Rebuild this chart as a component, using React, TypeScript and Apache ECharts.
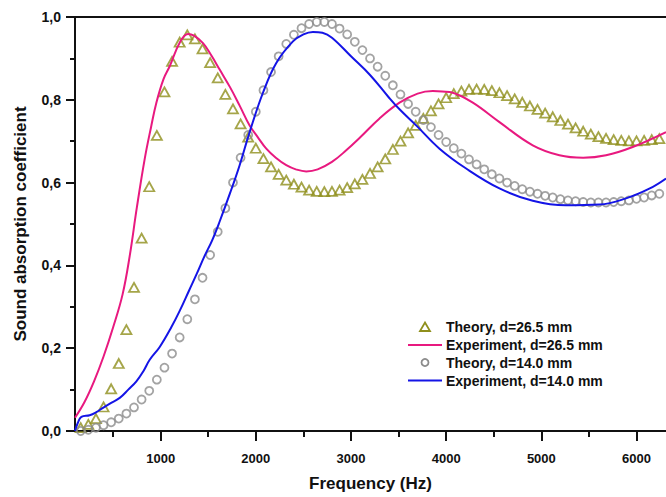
import React, { useEffect, useRef } from "react";
import * as echarts from "echarts";

// ---------- DATA ----------
const theory265Freq = [160, 240, 320, 400, 480, 560, 640, 720, 800, 880, 960, 1040, 1120, 1200, 1280, 1360, 1440, 1520, 1600, 1680, 1760, 1840, 1920, 2000, 2080, 2160, 2240, 2320, 2400, 2480, 2560, 2640, 2720, 2800, 2880, 2960, 3040, 3120, 3200, 3280, 3360, 3440, 3520, 3600, 3680, 3760, 3840, 3920, 4000, 4080, 4160, 4240, 4320, 4400, 4480, 4560, 4640, 4720, 4800, 4880, 4960, 5040, 5120, 5200, 5280, 5360, 5440, 5520, 5600, 5680, 5760, 5840, 5920, 6000, 6080, 6160, 6240];
const theory265Val = [0.008, 0.016, 0.03, 0.058, 0.102, 0.163, 0.245, 0.347, 0.466, 0.59, 0.714, 0.819, 0.893, 0.939, 0.957, 0.947, 0.923, 0.89, 0.853, 0.813, 0.778, 0.742, 0.71, 0.683, 0.658, 0.638, 0.62, 0.606, 0.596, 0.589, 0.582, 0.579, 0.578, 0.579, 0.582, 0.588, 0.597, 0.608, 0.622, 0.638, 0.657, 0.68, 0.7, 0.72, 0.738, 0.755, 0.773, 0.79, 0.805, 0.815, 0.821, 0.825, 0.826, 0.825, 0.822, 0.817, 0.81, 0.802, 0.794, 0.785, 0.777, 0.768, 0.759, 0.75, 0.741, 0.732, 0.724, 0.717, 0.711, 0.707, 0.704, 0.702, 0.701, 0.701, 0.702, 0.704, 0.706];

const exp265Freq = [100, 200, 300, 400, 500, 600, 675, 750, 833, 900, 955, 1030, 1095, 1200, 1287, 1350, 1445, 1530, 1620, 1730, 1830, 1935, 2020, 2110, 2210, 2320, 2420, 2530, 2650, 2800, 2950, 3100, 3300, 3510, 3700, 3860, 3960, 4070, 4280, 4560, 4910, 5190, 5440, 5680, 5960, 6310];
const exp265Val = [0.032, 0.07, 0.12, 0.18, 0.25, 0.33, 0.423, 0.54, 0.658, 0.735, 0.793, 0.85, 0.881, 0.938, 0.959, 0.955, 0.937, 0.908, 0.873, 0.83, 0.786, 0.738, 0.71, 0.682, 0.66, 0.642, 0.632, 0.627, 0.632, 0.65, 0.678, 0.71, 0.755, 0.793, 0.815, 0.821, 0.82, 0.817, 0.793, 0.746, 0.69, 0.666, 0.66, 0.666, 0.686, 0.722];

const theory140Freq = theory265Freq;
const theory140Val = [0.0, 0.003, 0.008, 0.014, 0.021, 0.03, 0.042, 0.057, 0.076, 0.097, 0.124, 0.153, 0.187, 0.226, 0.27, 0.318, 0.37, 0.425, 0.481, 0.538, 0.6, 0.66, 0.715, 0.771, 0.823, 0.867, 0.905, 0.935, 0.957, 0.973, 0.983, 0.988, 0.988, 0.983, 0.972, 0.958, 0.94, 0.92, 0.9, 0.88, 0.858, 0.835, 0.813, 0.79, 0.771, 0.751, 0.734, 0.715, 0.698, 0.683, 0.67, 0.656, 0.644, 0.632, 0.62, 0.61, 0.6, 0.592, 0.584, 0.578, 0.573, 0.568, 0.564, 0.56, 0.557, 0.555, 0.553, 0.552, 0.552, 0.552, 0.553, 0.555, 0.557, 0.561, 0.564, 0.569, 0.573];

const exp140Freq = [100, 130, 167, 254, 320, 394, 480, 570, 660, 745, 820, 885, 990, 1113, 1200, 1300, 1380, 1462, 1540, 1620, 1730, 1830, 1935, 2075, 2215, 2390, 2500, 2600, 2700, 2800, 3000, 3200, 3400, 3510, 3690, 3930, 4210, 4560, 4910, 5260, 5610, 5890, 6140, 6310];
const exp140Val = [0.0, 0.02, 0.034, 0.038, 0.045, 0.056, 0.068, 0.08, 0.1, 0.12, 0.145, 0.172, 0.203, 0.251, 0.29, 0.34, 0.38, 0.423, 0.46, 0.506, 0.575, 0.642, 0.722, 0.817, 0.889, 0.941, 0.958, 0.964, 0.962, 0.95, 0.905, 0.86, 0.805, 0.777, 0.737, 0.682, 0.634, 0.586, 0.556, 0.545, 0.547, 0.562, 0.586, 0.61];

const xMajorTicks = [1000, 2000, 3000, 4000, 5000, 6000];
const xMinorTicks = [500, 1500, 2500, 3500, 4500, 5500];
const legendLabels = ["Theory, d=26.5 mm", "Experiment, d=26.5 mm", "Theory, d=14.0 mm", "Experiment, d=14.0 mm"];

const COLORS = { olive: "#8f8f1c", pink: "#e8197f", gray: "#8c8c8c", blue: "#1414e6" };
const FONT = "'Liberation Sans', Arial, sans-serif";

const zip = (xs: number[], ys: number[]) => xs.map((x, i) => [x, ys[i]]);

export default function App() {
  const ref = useRef<HTMLDivElement>(null);
  useEffect(() => {
    if (!ref.current) return;
    const chart = echarts.init(ref.current, null, { renderer: "svg" });
    const X_MIN = 100;
    const X_MAX = 6310;
    const axisLine = { show: true, lineStyle: { color: "#111", width: 2 } };
    const legendX = 446;
    const rowY = [327, 345, 362.5, 380.5];
    chart.setOption({
      animation: false,
      backgroundColor: "#fff",
      grid: { left: 75, top: 17, bottom: 62, right: 0, containLabel: false },
      xAxis: [
        {
          type: "value",
          min: X_MIN,
          max: X_MAX,
          position: "bottom",
          name: "Frequency (Hz)",
          nameLocation: "middle",
          nameGap: 44,
          nameTextStyle: { fontFamily: FONT, fontWeight: "bold", fontSize: 17, color: "#111" },
          axisLine,
          axisTick: { show: true, length: 10, customValues: xMajorTicks, lineStyle: { color: "#111", width: 2 } },
          axisLabel: {
            show: true,
            customValues: xMajorTicks,
            margin: 21,
            fontFamily: FONT,
            fontWeight: "bold",
            fontSize: 13,
            color: "#111",
            formatter: (v: number) => String(Math.round(v)),
          },
          splitLine: { show: false },
        },
        {
          type: "value",
          min: X_MIN,
          max: X_MAX,
          position: "bottom",
          axisLine: { show: false },
          axisTick: { show: true, length: 6, customValues: xMinorTicks, lineStyle: { color: "#111", width: 2 } },
          axisLabel: { show: false },
          splitLine: { show: false },
        },
        {
          type: "value",
          min: X_MIN,
          max: X_MAX,
          position: "top",
          axisLine,
          axisTick: { show: false },
          axisLabel: { show: false },
          splitLine: { show: false },
        },
      ],
      yAxis: {
        type: "value",
        min: 0,
        max: 1,
        interval: 0.2,
        name: "Sound absorption coefficient",
        nameLocation: "middle",
        nameGap: 46,
        nameTextStyle: { fontFamily: FONT, fontWeight: "bold", fontSize: 17, color: "#111" },
        axisLine,
        axisTick: { show: true, length: 9, lineStyle: { color: "#111", width: 2 } },
        minorTick: { show: true, splitNumber: 2, length: 5, lineStyle: { color: "#111", width: 2 } },
        axisLabel: {
          margin: 14,
          fontFamily: FONT,
          fontWeight: "bold",
          fontSize: 14,
          color: "#111",
          formatter: (v: number) => v.toFixed(1).replace(".", ","),
        },
        splitLine: { show: false },
      },
      series: [
        {
          name: legendLabels[0],
          type: "scatter",
          symbol: "triangle",
          symbolSize: [10, 9],
          data: zip(theory265Freq, theory265Val),
          itemStyle: { color: "rgba(0,0,0,0)", borderColor: COLORS.olive, borderWidth: 1.8 },
          clip: true,
          z: 2,
        },
        {
          name: legendLabels[1],
          type: "line",
          showSymbol: false,
          smooth: 0.4,
          data: zip(exp265Freq, exp265Val),
          lineStyle: { color: COLORS.pink, width: 2 },
          itemStyle: { color: COLORS.pink },
          clip: true,
          z: 3,
        },
        {
          name: legendLabels[2],
          type: "scatter",
          symbol: "circle",
          symbolSize: 8,
          data: zip(theory140Freq, theory140Val),
          itemStyle: { color: "rgba(0,0,0,0)", borderColor: COLORS.gray, borderWidth: 1.8 },
          clip: true,
          z: 2,
        },
        {
          name: legendLabels[3],
          type: "line",
          showSymbol: false,
          smooth: 0.4,
          data: zip(exp140Freq, exp140Val),
          lineStyle: { color: COLORS.blue, width: 2 },
          itemStyle: { color: COLORS.blue },
          clip: true,
          z: 3,
        },
      ],
      graphic: [
        {
          type: "polygon",
          shape: { points: [[420, rowY[0] + 4], [430, rowY[0] + 4], [425, rowY[0] - 4.5]] },
          style: { fill: "none", stroke: COLORS.olive, lineWidth: 1.8 },
        },
        {
          type: "line",
          shape: { x1: 408, y1: rowY[1], x2: 442, y2: rowY[1] },
          style: { stroke: COLORS.pink, lineWidth: 2 },
        },
        {
          type: "circle",
          shape: { cx: 425, cy: rowY[2], r: 3.5 },
          style: { fill: "none", stroke: COLORS.gray, lineWidth: 1.8 },
        },
        {
          type: "line",
          shape: { x1: 408, y1: rowY[3], x2: 442, y2: rowY[3] },
          style: { stroke: COLORS.blue, lineWidth: 2 },
        },
        ...legendLabels.map((t, i) => ({
          type: "text",
          x: legendX,
          y: rowY[i],
          style: {
            text: t,
            fill: "#111",
            fontFamily: FONT,
            fontWeight: "bold",
            fontSize: 14,
            verticalAlign: "middle",
            align: "left",
          },
        })),
      ],
    });
    return () => chart.dispose();
  }, []);
  return (
    <div
      ref={ref}
      style={{ position: "absolute", left: 0, top: 0, width: 666, height: 497 }}
    />
  );
}
